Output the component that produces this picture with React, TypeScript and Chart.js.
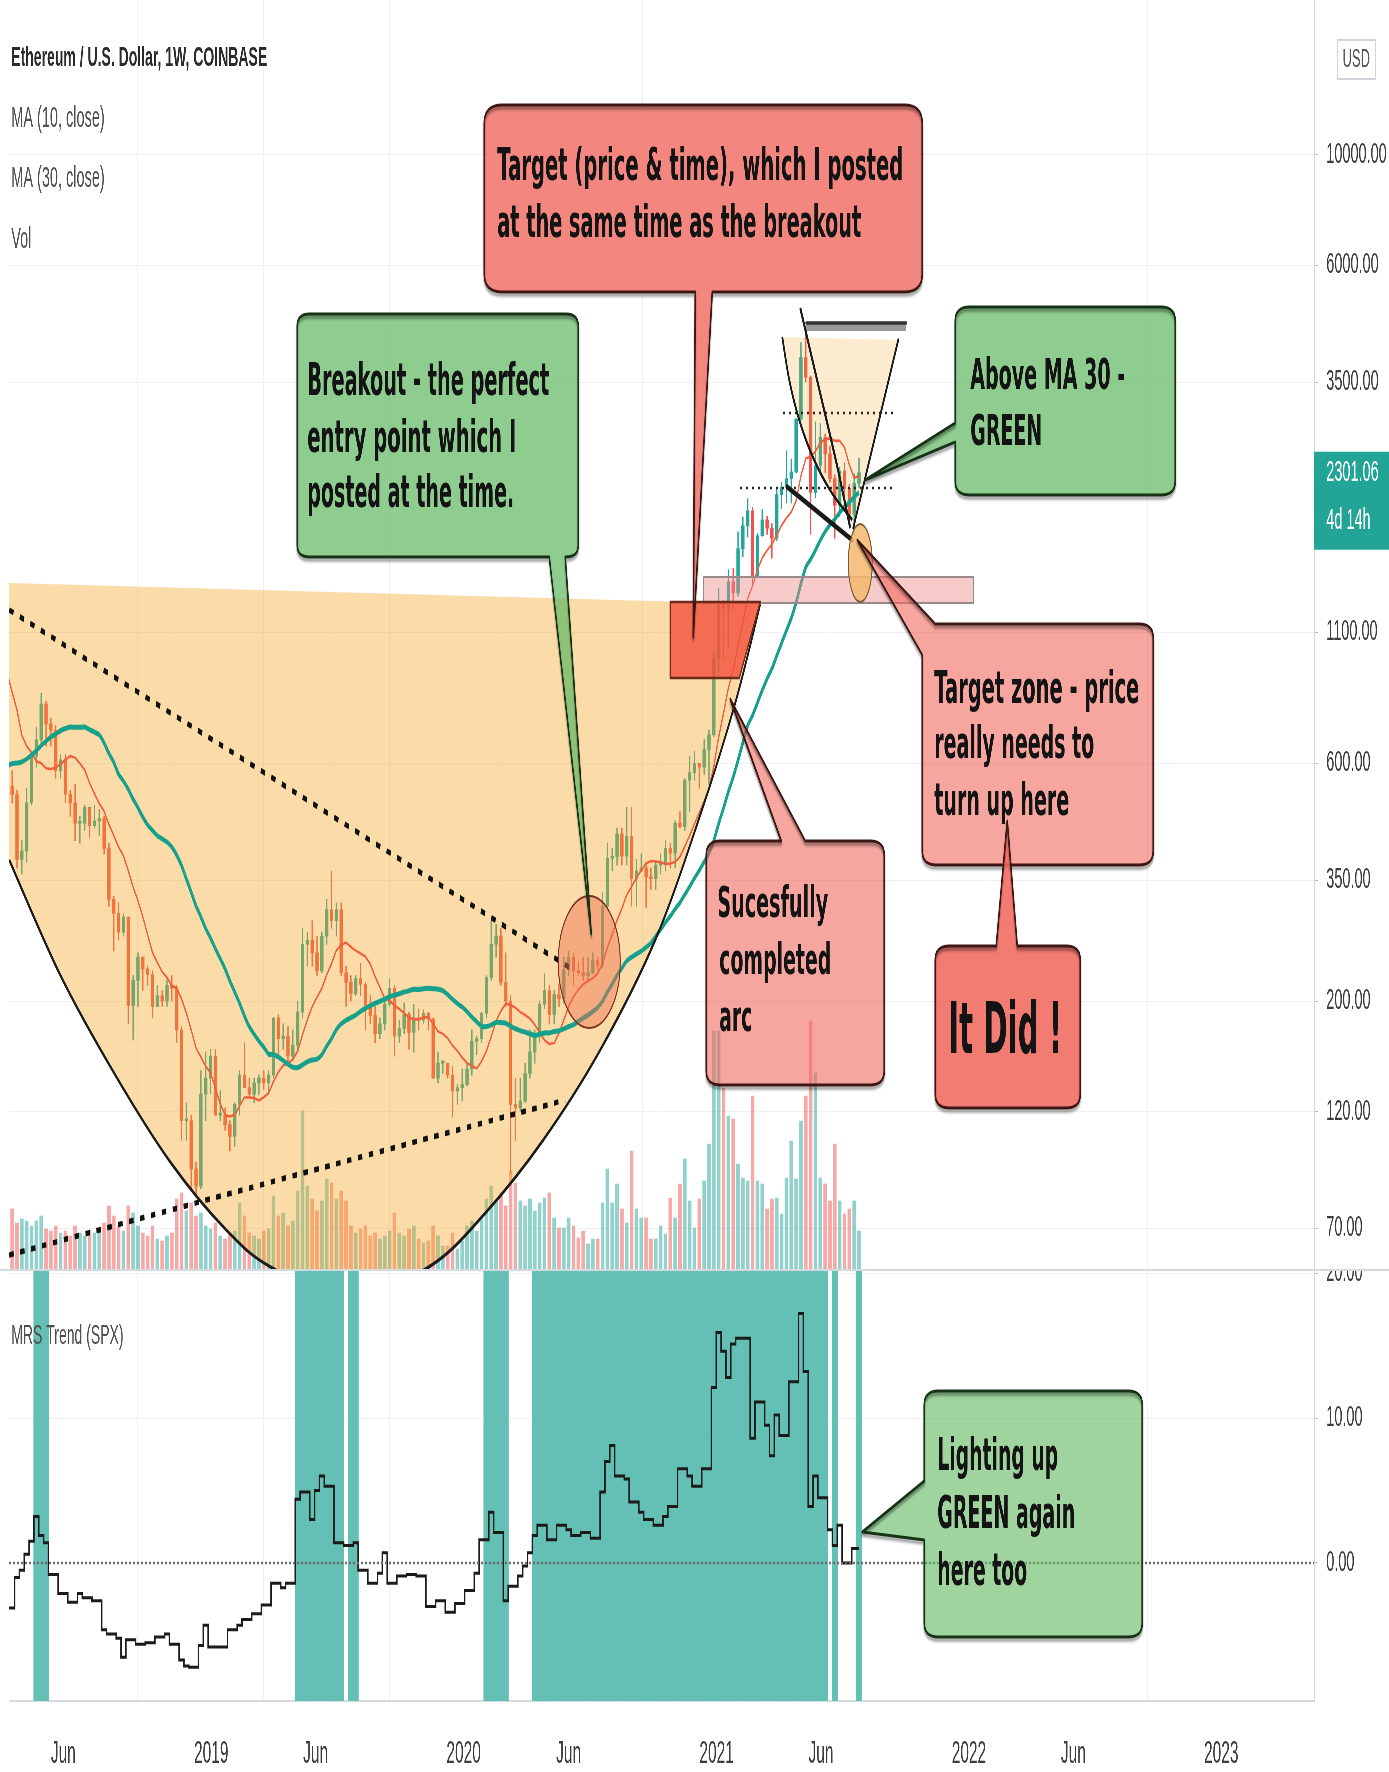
import React, { useEffect, useRef } from 'react';
import { Chart, registerables } from 'chart.js';

Chart.register(...registerables);

// ---------- page geometry (the reference is horizontally compressed) ----------
const S = 0.5;
const PAGE_W = 1389;
const PAGE_H = 1772;
const CW = PAGE_W / S;
const PRICE_H = 1271;
const MRS_H = PAGE_H - PRICE_H;

// ---------- data ----------
// weekly candles, x = days since 2018-01-01 (Monday), week k at day 7k
const FIRST_WEEK = 10;
// closes of weeks -20..9 (only used for the moving averages)
const HISTORY_CLOSES = [300, 345, 345, 297, 255, 282, 302, 308, 336, 296, 306, 296, 308, 355, 470, 465, 450, 720, 690, 740, 1150, 1270, 1050, 1245, 830, 815, 920, 845, 860, 720];

const CLOSES = [
  540, 520, 385, 400, 500, 620, 670, 790, 720, 700,
  580, 610, 520, 500, 455, 455, 490, 450, 460, 465,
  405, 320, 300, 275, 295, 196, 220, 245, 232, 226,
  195, 205, 200, 215, 212, 175, 115, 115, 92, 85,
  130, 140, 155, 118, 118, 113, 107, 124, 142, 134,
  130, 137, 140, 137, 142, 185, 168, 170, 155, 163,
  190, 260, 265, 250, 230, 270, 305, 290, 305, 228,
  218, 207, 222, 216, 196, 187, 172, 180, 197, 212,
  170, 176, 188, 173, 185, 183, 189, 184, 140, 150,
  150, 142, 132, 134, 136, 146, 166, 168, 189, 223,
  260, 270, 218, 200, 124, 122, 126, 143, 158, 172,
  197, 210, 188, 206, 202, 231, 245, 230, 228, 225,
  228, 241, 236, 310, 387, 390, 433, 391, 428, 352,
  365, 370, 355, 352, 375, 378, 405, 396, 455, 448,
  555, 575, 600, 590, 640, 685, 975, 1260, 1230, 1390,
  1320, 1620, 1800, 1930, 1420, 1720, 1850, 1780, 1700, 2080,
  2150, 2240, 2310, 2950, 3920, 3580, 2100, 2380, 2710, 2510,
  2240, 1980, 2320, 2140, 1900, 2190, 2301.06,
];

const HIGHS = [
  720, 580, 530, 420, 535, 625, 710, 830, 800, 740,
  715, 625, 625, 530, 545, 470, 495, 490, 495, 485,
  470, 415, 325, 315, 300, 295, 225, 250, 245, 235,
  230, 215, 210, 220, 225, 215, 178, 125, 118, 95,
  145, 158, 160, 160, 132, 122, 115, 125, 145, 165,
  140, 140, 142, 145, 145, 185, 188, 180, 178, 175,
  200, 280, 275, 290, 270, 275, 320, 365, 315, 315,
  235, 225, 225, 238, 218, 205, 195, 185, 200, 222,
  215, 183, 198, 190, 197, 193, 192, 190, 185, 158,
  152, 150, 148, 136, 146, 150, 175, 170, 190, 225,
  290, 285, 280, 250, 205, 140, 140, 150, 175, 175,
  200, 227, 215, 210, 216, 245, 252, 250, 240, 245,
  245, 250, 245, 330, 415, 405, 445, 445, 490, 490,
  385, 395, 380, 370, 380, 395, 420, 415, 460, 480,
  560, 620, 635, 600, 670, 700, 1000, 1350, 1275, 1470,
  1480, 1750, 1875, 2040, 1960, 1740, 1940, 1880, 1820, 2150,
  2200, 2550, 2450, 2950, 4200, 4380, 3600, 2910, 2890, 2750,
  2600, 2280, 2360, 2410, 2180, 2290, 2460,
];

const LOWS = [
  530, 500, 370, 360, 380, 495, 590, 660, 650, 650,
  560, 560, 500, 470, 420, 415, 440, 425, 445, 430,
  395, 310, 252, 265, 270, 180, 167, 195, 210, 215,
  185, 195, 195, 195, 200, 165, 105, 105, 84, 82,
  84, 115, 130, 118, 115, 110, 100, 102, 118, 135,
  128, 125, 130, 133, 130, 140, 155, 160, 150, 152,
  160, 185, 235, 235, 225, 228, 260, 280, 270, 225,
  195, 200, 205, 205, 175, 180, 165, 168, 175, 195,
  155, 165, 172, 160, 158, 175, 180, 175, 140, 137,
  143, 140, 117, 124, 126, 135, 142, 156, 165, 185,
  220, 245, 215, 195, 90, 105, 120, 125, 140, 150,
  165, 193, 180, 180, 195, 198, 225, 215, 225, 220,
  220, 227, 231, 233, 305, 365, 375, 375, 375, 310,
  310, 365, 308, 335, 335, 360, 365, 370, 370, 445,
  440, 480, 555, 535, 570, 545, 680, 900, 960, 1030,
  1225, 1300, 1560, 1710, 1370, 1420, 1715, 1730, 1550, 1680,
  1950, 2000, 2000, 2300, 2930, 3500, 1730, 2050, 2310, 2300,
  2200, 1700, 1880, 1950, 1830, 1720, 2150,
];

// weekly volume, thousands of ETH
const VOLUMES = [
  1100, 1240, 960, 1040, 1000, 900, 1000, 1100, 840, 800,
  900, 760, 800, 700, 900, 760, 700, 800, 760, 840,
  960, 1300, 1100, 900, 800, 1300, 1160, 900, 760, 700,
  900, 640, 600, 700, 760, 1440, 1560, 1200, 1360, 1100,
  1160, 900, 840, 960, 700, 640, 760, 800, 1360, 1100,
  760, 700, 640, 800, 840, 1500, 1100, 1160, 900, 1000,
  1600, 3200, 1700, 1440, 1200, 1400, 1840, 1760, 1440, 1600,
  1400, 900, 760, 840, 900, 700, 760, 640, 700, 800,
  1160, 760, 700, 840, 900, 640, 560, 600, 900, 700,
  500, 500, 760, 440, 600, 900, 1000, 800, 1100, 1440,
  1700, 1400, 1560, 1300, 2000, 1760, 1400, 1300, 1440, 1200,
  1360, 1460, 1560, 1060, 860, 860, 1060, 900, 660, 800,
  540, 640, 640, 1360, 2040, 1360, 1740, 1240, 960, 2400,
  1240, 1060, 1060, 640, 640, 900, 740, 1460, 1060, 1740,
  2240, 1400, 860, 1440, 1800, 2540, 4800, 4800, 3660, 3100,
  3040, 2140, 1860, 1800, 3500, 1800, 1740, 1240, 1440, 1460,
  1140, 1860, 2600, 1840, 3000, 3500, 5000, 3960, 1860, 1740,
  1400, 2540, 1400, 1140, 1240, 1400, 800,
];

// MRS Trend (SPX), one value per week
const MRS = [
  -3.1, -3.1, -1.0, -0.5, 0.6, 1.5, 3.2, 1.9, 1.4, -0.8,
  -0.8, -2.1, -2.1, -2.7, -2.7, -2.1, -2.4, -2.4, -2.6, -2.6,
  -4.6, -4.9, -4.9, -5.2, -6.5, -5.3, -5.3, -5.6, -5.6, -5.5,
  -5.5, -5.1, -5.1, -4.9, -5.6, -5.6, -6.7, -7.1, -7.2, -7.2,
  -5.7, -4.3, -5.8, -5.8, -5.8, -5.8, -4.6, -4.6, -4.3, -3.9,
  -3.9, -3.5, -3.5, -2.9, -2.9, -1.4, -1.4, -1.7, -1.4, -1.4,
  4.4, 4.9, 4.9, 3.0, 5.0, 6.0, 5.3, 5.3, 1.4, 1.4,
  1.2, 1.2, 1.4, -0.5, -0.5, -1.4, -1.4, -0.7, 0.7, -1.4,
  -1.4, -0.9, -0.9, -0.8, -0.8, -0.9, -0.9, -3.0, -3.0, -2.6,
  -2.6, -3.4, -3.4, -2.8, -2.8, -1.9, -1.9, -0.7, 1.6, 1.6,
  3.5, 2.1, 2.1, -2.6, -1.6, -1.6, -0.9, -0.2, 0.7, 1.9,
  2.6, 2.6, 1.6, 1.6, 2.6, 2.6, 2.3, 1.9, 1.9, 2.1,
  2.1, 1.7, 1.7, 4.9, 7.0, 8.1, 6.0, 6.0, 5.8, 4.2,
  4.2, 3.5, 3.0, 3.0, 2.6, 2.6, 3.2, 3.9, 3.9, 6.5,
  6.5, 6.0, 5.3, 5.3, 6.5, 6.5, 12.1, 15.9, 14.6, 12.8,
  15.1, 15.5, 15.5, 15.5, 8.6, 11.1, 11.1, 9.5, 7.4, 10.2,
  8.8, 8.8, 12.5, 12.5, 17.2, 13.2, 3.9, 6.0, 4.5, 4.5,
  2.3, 1.2, 2.6, 0.0, 0.0, 1.0, 1.0,
];

// weeks highlighted green in the MRS pane (inclusive ranges of week numbers)
const MRS_HIGHLIGHT_RANGES = [[16, 18], [70, 79], [81, 82], [109, 113], [119, 179], [181, 181], [186, 186]];

const PRICE_TICKS = [70, 120, 200, 350, 600, 1100, 3500, 6000, 10000];
const MRS_TICKS = [0, 10, 20];
const X_TICK_DAYS = [151, 365, 516, 730, 882, 1096, 1247, 1461, 1612, 1826];
const X_TICK_LABELS = ['Jun', '2019', 'Jun', '2020', 'Jun', '2021', 'Jun', '2022', 'Jun', '2023'];
const LAST_PRICE = 2301.06;
const TIME_LEFT = '4d 14h';
const CURRENCY = 'USD';
const TITLE = 'Ethereum / U.S. Dollar, 1W, COINBASE';
const LEGEND_LINES = ['MA (10, close)', 'MA (30, close)', 'Vol'];
const MRS_TITLE = 'MRS Trend (SPX)';

// ---------- axis ranges ----------
const X_MIN = 72.8;
const X_MAX = 1960.5;
const PRICE_MIN = 57.4;
const PRICE_MAX = 20475;
const MRS_MIN = -9.52;
const MRS_MAX = 20.14;
const VOL_AXIS_MAX = 25420;

// ---------- styles ----------
const UP = '#26a69a';
const DOWN = '#ef5350';
const UP_VOL = 'rgba(38,166,154,0.5)';
const DOWN_VOL = 'rgba(239,83,80,0.5)';
const GRID = '#eef0f3';
const AXIS_FONT = "'Liberation Sans', Arial, sans-serif";
const AXIS_COLOR = '#3d3d3d';
const BOX_FONT = '"DejaVu Sans", Verdana, sans-serif';
const BAND_COLOR = '#64bfb4';

// ---------- annotation layout (reference pixels) ----------
const CUP_TOP = [[9, 583], [760, 604]];
const CUP_ARC = [[9, 860], [60, 975], [115, 1075], [170, 1162], [226, 1230], [272, 1268], [350, 1300], [430, 1266], [486, 1212], [543, 1140], [600, 1050], [655, 940], [700, 815], [735, 703], [760, 604]];
const DOWN_TREND = [[9, 610], [570, 968]];
const UP_TREND = [[9, 1255], [565, 1100]];
const BREAKOUT_CIRCLE = [589, 962, 31, 66];
const TARGET_BOX = [[670, 602], [760, 602], [739, 678], [670, 678]];
const TARGET_ZONE = [703, 577, 973, 603];
const SC_LEFT = [[782, 337], [789, 380], [799, 420], [813, 458], [831, 492], [852, 520]];
const SC_RIGHT = [[898, 340], [853, 528]];
const SC_STEEP = [[800, 308], [818, 385], [836, 462], [850, 528]];
const SC_BAR = [806, 323, 906, 331];
const SC_DOT_HI = [[783, 413], [893, 413]];
const SC_DOT_LO = [[740, 488], [893, 488]];
const SC_NECK = [[787, 487], [852, 540]];
const SC_ELLIPSE = [860, 563, 12, 39];

const RED = 'rgba(240,105,95,0.8)';
const RED_LIGHT = 'rgba(240,105,95,0.6)';
const RED_STRONG = 'rgba(240,105,95,0.88)';
const GREEN = 'rgba(100,185,100,0.72)';
const GREEN_LIGHT = 'rgba(100,185,100,0.62)';
const RED_EDGE = '#3d1714';
const GREEN_EDGE = '#163316';

const PRICE_CALLOUTS = [
  { box: [484, 105, 922, 292], r: 18, fill: RED, stroke: RED_EDGE, tail: { edge: 'bottom', a: 695, b: 712, tip: [693, 637] }, size: 45,
    lines: [['Target (price & time), which I posted', 497, 180, 406], ['at the same time as the breakout', 497, 237, 364]] },
  { box: [297, 314, 578, 557], r: 12, fill: GREEN, stroke: GREEN_EDGE, tail: { edge: 'bottom', a: 549, b: 565, tip: [591, 934] }, size: 44,
    lines: [['Breakout - the perfect', 307, 395, 242], ['entry point which I', 307, 452, 209], ['posted at the time.', 307, 507, 207]] },
  { box: [955, 307, 1175, 495], r: 14, fill: GREEN, stroke: GREEN_EDGE, tail: { edge: 'left', a: 423, b: 442, tip: [865, 480] }, size: 42,
    lines: [['Above MA 30 -', 970, 389, 155], ['GREEN', 970, 445, 72]] },
  { box: [922, 624, 1153, 865], r: 14, fill: RED_LIGHT, stroke: RED_EDGE, tail: { edge: 'topleft', a: 935, b: 655, tip: [857, 540] }, size: 44,
    lines: [['Target zone - price', 934, 703, 205], ['really needs to', 934, 758, 160], ['turn up here', 934, 815, 135]] },
  { box: [706, 841, 884, 1085], r: 14, fill: RED_LIGHT, stroke: RED_EDGE, tail: { edge: 'top', a: 781, b: 805, tip: [730, 699] }, size: 42,
    lines: [['Sucesfully', 717, 917, 111], ['completed', 719, 974, 112], ['arc', 719, 1031, 33]] },
  { box: [935, 946, 1080, 1108], r: 14, fill: RED_STRONG, stroke: RED_EDGE, tail: { edge: 'top', a: 996, b: 1017, tip: [1007, 821] }, size: 72,
    lines: [['It Did !', 948, 1053, 114]] },
];
const MRS_CALLOUTS = [
  { box: [924, 1391, 1142, 1637], r: 14, fill: GREEN_LIGHT, stroke: GREEN_EDGE, tail: { edge: 'left', a: 1481, b: 1540, tip: [862, 1532] }, size: 45,
    lines: [['Lighting up', 937, 1470, 121], ['GREEN again', 937, 1528, 138], ['here too', 937, 1585, 90]] },
];

// ---------- helpers ----------
const cx = (x: number) => x / S;

function smooth(ctx: any, pts: number[][], move: boolean) {
  if (move) ctx.moveTo(pts[0][0], pts[0][1]);
  else ctx.lineTo(pts[0][0], pts[0][1]);
  for (let i = 0; i < pts.length - 1; i++) {
    const p0 = pts[i - 1] || pts[i];
    const p1 = pts[i];
    const p2 = pts[i + 1];
    const p3 = pts[i + 2] || p2;
    ctx.bezierCurveTo(
      p1[0] + (p2[0] - p0[0]) / 6, p1[1] + (p2[1] - p0[1]) / 6,
      p2[0] - (p3[0] - p1[0]) / 6, p2[1] - (p3[1] - p1[1]) / 6,
      p2[0], p2[1]
    );
  }
}

const toCanvas = (pts: number[][], yOff: number) => pts.map((p) => [cx(p[0]), p[1] - yOff]);

function strokeLine(ctx: any, pts: number[][], width: number, color: string, dash?: number[]) {
  ctx.save();
  ctx.beginPath();
  ctx.moveTo(pts[0][0], pts[0][1]);
  for (let i = 1; i < pts.length; i++) ctx.lineTo(pts[i][0], pts[i][1]);
  ctx.lineWidth = width;
  ctx.strokeStyle = color;
  ctx.lineCap = dash ? 'butt' : 'round';
  ctx.lineJoin = 'round';
  if (dash) ctx.setLineDash(dash);
  ctx.stroke();
  ctx.restore();
}

function clipArea(chart: any) {
  const { ctx, chartArea: ca } = chart;
  ctx.beginPath();
  ctx.rect(ca.left, ca.top, ca.right - ca.left, ca.bottom - ca.top);
  ctx.clip();
}

function drawCallout(ctx: any, c: any, yOff: number) {
  const [x0, y0, x1, y1] = c.box;
  const X0 = cx(x0), X1 = cx(x1), Y0 = y0 - yOff, Y1 = y1 - yOff;
  const rx = cx(c.r), ry = c.r;
  const t = c.tail;
  const tip = [cx(t.tip[0]), t.tip[1] - yOff];
  ctx.beginPath();
  if (t.edge === 'topleft') ctx.moveTo(cx(t.a), Y0);
  else ctx.moveTo(X0 + rx, Y0);
  if (t.edge === 'top') {
    ctx.lineTo(cx(t.a), Y0);
    ctx.lineTo(tip[0], tip[1]);
    ctx.lineTo(cx(t.b), Y0);
  }
  ctx.lineTo(X1 - rx, Y0);
  ctx.quadraticCurveTo(X1, Y0, X1, Y0 + ry);
  ctx.lineTo(X1, Y1 - ry);
  ctx.quadraticCurveTo(X1, Y1, X1 - rx, Y1);
  if (t.edge === 'bottom') {
    ctx.lineTo(cx(t.b), Y1);
    ctx.lineTo(tip[0], tip[1]);
    ctx.lineTo(cx(t.a), Y1);
  }
  ctx.lineTo(X0 + rx, Y1);
  ctx.quadraticCurveTo(X0, Y1, X0, Y1 - ry);
  if (t.edge === 'left') {
    ctx.lineTo(X0, t.b - yOff);
    ctx.lineTo(tip[0], tip[1]);
    ctx.lineTo(X0, t.a - yOff);
  }
  if (t.edge === 'topleft') {
    ctx.lineTo(X0, t.b - yOff);
    ctx.lineTo(tip[0], tip[1]);
    ctx.closePath();
  } else {
    ctx.lineTo(X0, Y0 + ry);
    ctx.quadraticCurveTo(X0, Y0, X0 + rx, Y0);
    ctx.closePath();
  }
  ctx.fillStyle = c.fill;
  ctx.fill();
  ctx.save();
  ctx.shadowColor = 'rgba(0,0,0,0.45)';
  ctx.shadowBlur = 3;
  ctx.shadowOffsetY = 3;
  ctx.lineWidth = 3;
  ctx.lineJoin = 'round';
  ctx.strokeStyle = c.stroke;
  ctx.stroke();
  ctx.restore();
  ctx.fillStyle = '#141414';
  ctx.font = `bold ${c.size}px ${BOX_FONT}`;
  ctx.textAlign = 'left';
  ctx.textBaseline = 'alphabetic';
  for (const [txt, x, y, w] of c.lines) {
    ctx.fillText(txt, cx(x), y - yOff, cx(w));
  }
}

const priceAnnotations = {
  id: 'priceAnnotations',
  // the cup fills sit above candles and volume but below the moving averages
  afterDatasetDraw(chart: any, args: any) {
    if (args.index !== 2) return;
    const { ctx } = chart;
    ctx.save();
    clipArea(chart);
    const arc = toCanvas(CUP_ARC, 0);
    ctx.beginPath();
    ctx.moveTo(cx(CUP_TOP[0][0]), CUP_TOP[0][1]);
    ctx.lineTo(cx(CUP_TOP[1][0]), CUP_TOP[1][1]);
    smooth(ctx, arc.slice().reverse(), false);
    ctx.closePath();
    ctx.fillStyle = 'rgba(245,166,35,0.4)';
    ctx.fill();

    const scl = toCanvas(SC_LEFT, 0);
    ctx.beginPath();
    smooth(ctx, scl, true);
    ctx.lineTo(cx(SC_RIGHT[1][0]), SC_RIGHT[1][1]);
    ctx.lineTo(cx(SC_RIGHT[0][0]), SC_RIGHT[0][1]);
    ctx.closePath();
    ctx.fillStyle = 'rgba(245,166,35,0.22)';
    ctx.fill();
    ctx.restore();
  },
  afterDatasetsDraw(chart: any) {
    const { ctx } = chart;
    ctx.save();
    clipArea(chart);

    // big cup outline
    const arc = toCanvas(CUP_ARC, 0);
    ctx.beginPath();
    smooth(ctx, arc, true);
    ctx.lineWidth = 3.5;
    ctx.strokeStyle = '#1c1c1c';
    ctx.stroke();

    // dotted trend lines
    strokeLine(ctx, toCanvas(DOWN_TREND, 0), 5.5, '#111', [9, 13]);
    strokeLine(ctx, toCanvas(UP_TREND, 0), 5.5, '#111', [9, 13]);

    // breakout circle
    ctx.beginPath();
    ctx.ellipse(cx(BREAKOUT_CIRCLE[0]), BREAKOUT_CIRCLE[1], cx(BREAKOUT_CIRCLE[2]), BREAKOUT_CIRCLE[3], 0, 0, Math.PI * 2);
    ctx.fillStyle = 'rgba(242,110,80,0.45)';
    ctx.fill();
    ctx.lineWidth = 2;
    ctx.strokeStyle = '#7a2f1f';
    ctx.stroke();

    // small cup (2021)
    const scl = toCanvas(SC_LEFT, 0);
    ctx.fillStyle = '#9a9a9a';
    ctx.fillRect(cx(SC_BAR[0]), SC_BAR[1], cx(SC_BAR[2] - SC_BAR[0]), SC_BAR[3] - SC_BAR[1]);
    strokeLine(ctx, toCanvas([[SC_BAR[0], SC_BAR[1]], [SC_BAR[2], SC_BAR[1]]], 0), 3.5, '#333');
    strokeLine(ctx, toCanvas(SC_DOT_HI, 0), 2.5, '#222', [4, 8]);
    strokeLine(ctx, toCanvas(SC_DOT_LO, 0), 2.5, '#222', [4, 8]);
    ctx.beginPath();
    smooth(ctx, scl, true);
    ctx.lineWidth = 3.5;
    ctx.strokeStyle = '#1a1a1a';
    ctx.stroke();
    strokeLine(ctx, toCanvas(SC_RIGHT, 0), 3.5, '#1a1a1a');
    ctx.beginPath();
    smooth(ctx, toCanvas(SC_STEEP, 0), true);
    ctx.lineWidth = 4;
    ctx.strokeStyle = '#1a1a1a';
    ctx.stroke();
    strokeLine(ctx, toCanvas(SC_NECK, 0), 5.5, '#1a1a1a');

    // target zone (pink band)
    ctx.fillStyle = 'rgba(240,140,140,0.45)';
    ctx.fillRect(cx(TARGET_ZONE[0]), TARGET_ZONE[1], cx(TARGET_ZONE[2] - TARGET_ZONE[0]), TARGET_ZONE[3] - TARGET_ZONE[1]);
    ctx.lineWidth = 2;
    ctx.strokeStyle = '#9a8a8a';
    ctx.strokeRect(cx(TARGET_ZONE[0]), TARGET_ZONE[1], cx(TARGET_ZONE[2] - TARGET_ZONE[0]), TARGET_ZONE[3] - TARGET_ZONE[1]);

    // red target box
    const tb = toCanvas(TARGET_BOX, 0);
    ctx.beginPath();
    ctx.moveTo(tb[0][0], tb[0][1]);
    for (let i = 1; i < tb.length; i++) ctx.lineTo(tb[i][0], tb[i][1]);
    ctx.closePath();
    ctx.fillStyle = 'rgba(242,80,60,0.8)';
    ctx.fill();
    ctx.lineWidth = 2.5;
    ctx.strokeStyle = '#6b2a1a';
    ctx.stroke();

    // orange ellipse
    ctx.beginPath();
    ctx.ellipse(cx(SC_ELLIPSE[0]), SC_ELLIPSE[1], cx(SC_ELLIPSE[2]), SC_ELLIPSE[3], 0, 0, Math.PI * 2);
    ctx.fillStyle = 'rgba(245,185,110,0.85)';
    ctx.fill();
    ctx.lineWidth = 2;
    ctx.strokeStyle = '#7a5a30';
    ctx.stroke();

    for (const c of PRICE_CALLOUTS) drawCallout(ctx, c, 0);
    ctx.restore();
  },
  afterDraw(chart: any) {
    const { ctx } = chart;
    ctx.save();
    ctx.textAlign = 'left';
    ctx.textBaseline = 'middle';
    ctx.fillStyle = '#2b2b2b';
    ctx.font = `bold 28px ${AXIS_FONT}`;
    ctx.fillText(TITLE, cx(11), 58, cx(266));
    ctx.fillStyle = '#4f4f4f';
    ctx.font = `29px ${AXIS_FONT}`;
    const ys = [119, 179, 240];
    LEGEND_LINES.forEach((t, i) => ctx.fillText(t, cx(11), ys[i], cx(99)));

    // currency box
    ctx.fillStyle = '#ffffff';
    ctx.strokeStyle = '#d1d4dc';
    ctx.lineWidth = 2;
    ctx.beginPath();
    ctx.rect(cx(1337), 40, cx(38), 39);
    ctx.fill();
    ctx.stroke();
    ctx.fillStyle = '#555';
    ctx.font = `26px ${AXIS_FONT}`;
    ctx.textAlign = 'center';
    ctx.fillText(CURRENCY, cx(1356), 60);

    // last price tag
    const py = chart.scales.y.getPixelForValue(LAST_PRICE);
    ctx.fillStyle = '#22a596';
    ctx.fillRect(cx(1314), py - 21, cx(75), 98);
    ctx.fillStyle = '#ffffff';
    ctx.textAlign = 'left';
    ctx.font = `29px ${AXIS_FONT}`;
    ctx.fillText(LAST_PRICE.toFixed(2), cx(1326), py);
    ctx.fillText(TIME_LEFT, cx(1326), py + 48);

    // pane separator
    ctx.fillStyle = '#d6d9e0';
    ctx.fillRect(0, PRICE_H - 2, CW, 2);
    ctx.restore();
  },
};

const mrsAnnotations = {
  id: 'mrsAnnotations',
  afterDatasetsDraw(chart: any) {
    const { ctx, chartArea: ca } = chart;
    ctx.save();
    clipArea(chart);
    const y0 = chart.scales.y.getPixelForValue(0);
    strokeLine(ctx, [[ca.left, y0], [ca.right, y0]], 2.5, '#6a6a6a', [3, 5]);
    for (const c of MRS_CALLOUTS) drawCallout(ctx, c, PRICE_H);
    ctx.restore();
  },
  afterDraw(chart: any) {
    const { ctx } = chart;
    ctx.save();
    ctx.textAlign = 'left';
    ctx.textBaseline = 'middle';
    ctx.fillStyle = '#4f4f4f';
    ctx.font = `28px ${AXIS_FONT}`;
    ctx.fillText(MRS_TITLE, cx(11), 1336 - PRICE_H, cx(113));
    ctx.restore();
  },
};

function sma(all: number[], offset: number, n: number, count: number) {
  const out: number[] = [];
  for (let i = 0; i < count; i++) {
    const j = offset + i;
    let s = 0;
    for (let t = j - n + 1; t <= j; t++) s += all[t];
    out.push(s / n);
  }
  return out;
}

function buildPriceConfig() {
  const days = CLOSES.map((_, i) => 7 * (FIRST_WEEK + i));
  const opens = CLOSES.map((c, i) => (i === 0 ? HISTORY_CLOSES[HISTORY_CLOSES.length - 1] : CLOSES[i - 1]));
  const up = CLOSES.map((c, i) => c >= opens[i]);
  const all = [...HISTORY_CLOSES, ...CLOSES];
  const ma10 = sma(all, HISTORY_CLOSES.length, 10, CLOSES.length);
  const ma30 = sma(all, HISTORY_CLOSES.length, 30, CLOSES.length);
  const colors = up.map((u) => (u ? UP : DOWN));
  return {
    type: 'bar',
    data: {
      datasets: [
        {
          type: 'bar', yAxisID: 'yv', order: 5, grouped: false, barThickness: 6.5,
          data: VOLUMES.map((v, i) => ({ x: days[i], y: v })),
          backgroundColor: up.map((u) => (u ? UP_VOL : DOWN_VOL)), borderWidth: 0,
        },
        {
          type: 'bar', yAxisID: 'y', order: 4, grouped: false, barThickness: 2,
          data: CLOSES.map((c, i) => ({ x: days[i], y: [Math.min(LOWS[i], opens[i], c), Math.max(HIGHS[i], opens[i], c)] })),
          backgroundColor: colors, borderWidth: 0,
        },
        {
          type: 'bar', yAxisID: 'y', order: 3, grouped: false, barThickness: 6, minBarLength: 2,
          data: CLOSES.map((c, i) => ({ x: days[i], y: [opens[i], c] })),
          backgroundColor: colors, borderWidth: 0,
        },
        {
          type: 'line', yAxisID: 'y', order: 2,
          data: ma10.map((v, i) => ({ x: days[i], y: v })),
          borderColor: '#ee5f3c', borderWidth: 2.5, pointRadius: 0, tension: 0, fill: false,
        },
        {
          type: 'line', yAxisID: 'y', order: 1,
          data: ma30.map((v, i) => ({ x: days[i], y: v })),
          borderColor: '#17a08b', borderWidth: 5, pointRadius: 0, tension: 0.2, fill: false,
        },
      ],
    },
    options: {
      responsive: false,
      animation: false,
      devicePixelRatio: 1,
      events: [],
      layout: { autoPadding: false, padding: { left: 18, right: 0, top: 0, bottom: 0 } },
      plugins: { legend: { display: false }, tooltip: { enabled: false }, title: { display: false } },
      scales: {
        x: {
          type: 'linear', min: X_MIN, max: X_MAX, offset: false,
          afterBuildTicks: (s: any) => { s.ticks = X_TICK_DAYS.map((v) => ({ value: v })); },
          ticks: { display: false },
          grid: { color: GRID, drawTicks: false },
          border: { display: false },
          afterFit: (s: any) => { s.height = 0; },
        },
        y: {
          type: 'logarithmic', position: 'right', min: PRICE_MIN, max: PRICE_MAX,
          afterBuildTicks: (s: any) => { s.ticks = PRICE_TICKS.map((v) => ({ value: v })); },
          ticks: { autoSkip: false, padding: 16, color: AXIS_COLOR, font: { family: AXIS_FONT, size: 29 }, callback: (v: any) => Number(v).toFixed(2) },
          grid: { color: GRID, tickLength: 8, tickColor: '#b8bcc6' },
          border: { display: true, color: '#d6d9e0', width: 2 },
          afterFit: (s: any) => { s.width = 150; s.paddingTop = 0; s.paddingBottom = 0; },
        },
        yv: { type: 'linear', display: false, min: 0, max: VOL_AXIS_MAX },
      },
    },
    plugins: [priceAnnotations],
  };
}

function buildMrsConfig() {
  const days = MRS.map((_, i) => 7 * (FIRST_WEEK + i));
  const bands: any[] = [];
  for (const [a, b] of MRS_HIGHLIGHT_RANGES) {
    for (let k = a; k <= b; k++) bands.push({ x: 7 * k, y: [MRS_MIN, MRS_MAX] });
  }
  return {
    type: 'bar',
    data: {
      datasets: [
        {
          type: 'bar', order: 2, grouped: false, barThickness: 11,
          data: bands, backgroundColor: BAND_COLOR, borderWidth: 0,
        },
        {
          type: 'line', order: 1, stepped: 'middle',
          data: MRS.map((v, i) => ({ x: days[i], y: v })),
          borderColor: '#1b1b1b', borderWidth: 3, pointRadius: 0, fill: false,
        },
      ],
    },
    options: {
      responsive: false,
      animation: false,
      devicePixelRatio: 1,
      events: [],
      layout: { autoPadding: false, padding: { left: 18, right: 0, top: 0, bottom: 0 } },
      plugins: { legend: { display: false }, tooltip: { enabled: false }, title: { display: false } },
      scales: {
        x: {
          type: 'linear', min: X_MIN, max: X_MAX, offset: false,
          afterBuildTicks: (s: any) => { s.ticks = X_TICK_DAYS.map((v) => ({ value: v })); },
          ticks: {
            autoSkip: false, maxRotation: 0, minRotation: 0, padding: 35, color: AXIS_COLOR,
            font: { family: AXIS_FONT, size: 31 },
            callback: (v: any, i: number) => X_TICK_LABELS[i],
          },
          grid: { color: GRID, drawTicks: false },
          border: { display: true, color: '#d6d9e0', width: 2 },
          afterFit: (s: any) => { s.height = 71; s.paddingLeft = 0; s.paddingRight = 0; },
        },
        y: {
          type: 'linear', position: 'right', min: MRS_MIN, max: MRS_MAX,
          afterBuildTicks: (s: any) => { s.ticks = MRS_TICKS.map((v) => ({ value: v })); },
          ticks: { autoSkip: false, padding: 16, color: AXIS_COLOR, font: { family: AXIS_FONT, size: 29 }, callback: (v: any) => Number(v).toFixed(2) },
          grid: { color: GRID, tickLength: 8, tickColor: '#b8bcc6' },
          border: { display: true, color: '#d6d9e0', width: 2 },
          afterFit: (s: any) => { s.width = 150; s.paddingTop = 0; s.paddingBottom = 0; },
        },
      },
    },
    plugins: [mrsAnnotations],
  };
}

export default function App() {
  const priceRef = useRef<HTMLCanvasElement>(null);
  const mrsRef = useRef<HTMLCanvasElement>(null);
  useEffect(() => {
    const c1 = new Chart(priceRef.current as any, buildPriceConfig() as any);
    const c2 = new Chart(mrsRef.current as any, buildMrsConfig() as any);
    return () => {
      c1.destroy();
      c2.destroy();
    };
  }, []);
  return (
    <div style={{ position: 'absolute', left: 0, top: 0, width: PAGE_W, height: PAGE_H, overflow: 'hidden', background: '#ffffff' }}>
      <div style={{ width: CW, height: PAGE_H, transform: `scaleX(${S})`, transformOrigin: '0 0' }}>
        <canvas ref={priceRef} width={CW} height={PRICE_H} style={{ display: 'block', width: CW, height: PRICE_H }} />
        <canvas ref={mrsRef} width={CW} height={MRS_H} style={{ display: 'block', width: CW, height: MRS_H }} />
      </div>
    </div>
  );
}
